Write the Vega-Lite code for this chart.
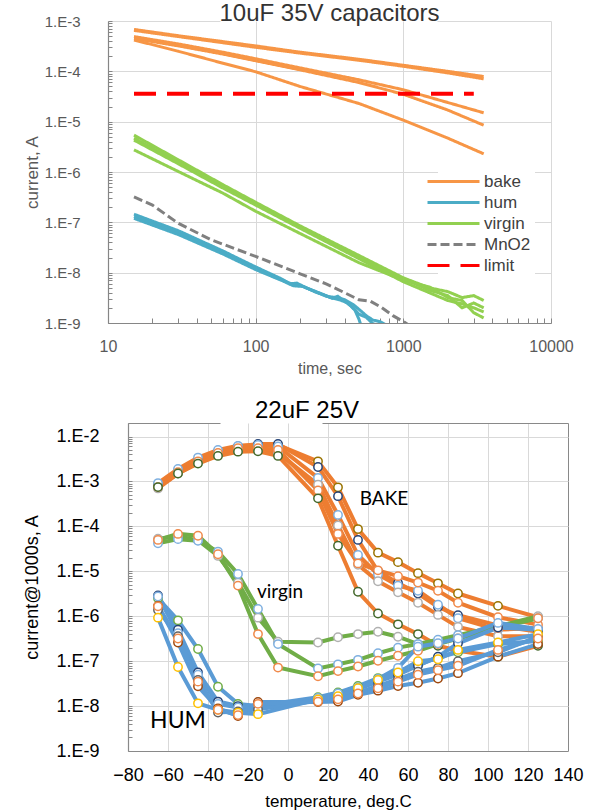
{
  "$schema": "https://vega.github.io/schema/vega-lite/v6.json",
  "background": "white",
  "padding": {"left": 23, "top": 2, "right": 5, "bottom": 2},
  "spacing": 23,
  "columns": 1,
  "config": {"view": {"stroke": null}, "font": "Liberation Sans"},
  "resolve": {"scale": {"color": "independent", "strokeDash": "independent", "stroke": "independent"}, "legend": {"color": "independent", "strokeDash": "independent"}},
  "datasets": {
    "top": [
      {"s":"bake","id":"b1","t":15,"I":6.8e-4},{"s":"bake","id":"b1","t":30,"I":5.1e-4},{"s":"bake","id":"b1","t":60,"I":3.9e-4},{"s":"bake","id":"b1","t":100,"I":3.2e-4},{"s":"bake","id":"b1","t":200,"I":2.4e-4},{"s":"bake","id":"b1","t":500,"I":1.74e-4},{"s":"bake","id":"b1","t":1000,"I":1.32e-4},{"s":"bake","id":"b1","t":2000,"I":1.0e-4},{"s":"bake","id":"b1","t":3500,"I":7.9e-5},
      {"s":"bake","id":"b2","t":15,"I":6.5e-4},{"s":"bake","id":"b2","t":30,"I":4.9e-4},{"s":"bake","id":"b2","t":60,"I":3.7e-4},{"s":"bake","id":"b2","t":100,"I":3.0e-4},{"s":"bake","id":"b2","t":200,"I":2.3e-4},{"s":"bake","id":"b2","t":500,"I":1.66e-4},{"s":"bake","id":"b2","t":1000,"I":1.26e-4},{"s":"bake","id":"b2","t":2000,"I":9.3e-5},{"s":"bake","id":"b2","t":3500,"I":7.1e-5},
      {"s":"bake","id":"b3","t":15,"I":4.9e-4},{"s":"bake","id":"b3","t":30,"I":3.5e-4},{"s":"bake","id":"b3","t":60,"I":2.4e-4},{"s":"bake","id":"b3","t":100,"I":1.78e-4},{"s":"bake","id":"b3","t":200,"I":1.17e-4},{"s":"bake","id":"b3","t":500,"I":6.8e-5},{"s":"bake","id":"b3","t":1000,"I":4.3e-5},{"s":"bake","id":"b3","t":2000,"I":2.4e-5},{"s":"bake","id":"b3","t":3500,"I":1.5e-5},
      {"s":"bake","id":"b4","t":15,"I":4.5e-4},{"s":"bake","id":"b4","t":30,"I":3.2e-4},{"s":"bake","id":"b4","t":60,"I":2.2e-4},{"s":"bake","id":"b4","t":100,"I":1.62e-4},{"s":"bake","id":"b4","t":200,"I":1.07e-4},{"s":"bake","id":"b4","t":500,"I":6.0e-5},{"s":"bake","id":"b4","t":1000,"I":3.5e-5},{"s":"bake","id":"b4","t":2000,"I":1.7e-5},{"s":"bake","id":"b4","t":3500,"I":8.5e-6},
      {"s":"bake","id":"b5","t":15,"I":4.2e-4},{"s":"bake","id":"b5","t":30,"I":2.5e-4},{"s":"bake","id":"b5","t":60,"I":1.45e-4},{"s":"bake","id":"b5","t":100,"I":9.8e-5},{"s":"bake","id":"b5","t":200,"I":5.0e-5},{"s":"bake","id":"b5","t":500,"I":2.3e-5},{"s":"bake","id":"b5","t":1000,"I":1.07e-5},{"s":"bake","id":"b5","t":2000,"I":4.7e-6},{"s":"bake","id":"b5","t":3500,"I":2.3e-6},
      {"s":"hum","id":"h1","t":15,"I":1.45e-7},{"s":"hum","id":"h1","t":30,"I":6.8e-8},{"s":"hum","id":"h1","t":60,"I":2.7e-8},{"s":"hum","id":"h1","t":100,"I":1.3e-8},{"s":"hum","id":"h1","t":150,"I":7.5e-9},{"s":"hum","id":"h1","t":170,"I":6.0e-9},{"s":"hum","id":"h1","t":190,"I":6.2e-9},{"s":"hum","id":"h1","t":220,"I":5.0e-9},{"s":"hum","id":"h1","t":260,"I":4.0e-9},{"s":"hum","id":"h1","t":300,"I":3.5e-9},{"s":"hum","id":"h1","t":330,"I":3.1e-9},{"s":"hum","id":"h1","t":360,"I":3.4e-9},{"s":"hum","id":"h1","t":400,"I":2.7e-9},{"s":"hum","id":"h1","t":450,"I":2.1e-9},{"s":"hum","id":"h1","t":500,"I":1.5e-9},{"s":"hum","id":"h1","t":560,"I":1.3e-9},{"s":"hum","id":"h1","t":620,"I":9.8e-10},{"s":"hum","id":"h1","t":700,"I":8.5e-10},
      {"s":"hum","id":"h2","t":15,"I":1.3e-7},{"s":"hum","id":"h2","t":30,"I":6.2e-8},{"s":"hum","id":"h2","t":60,"I":2.5e-8},{"s":"hum","id":"h2","t":100,"I":1.2e-8},{"s":"hum","id":"h2","t":150,"I":7.2e-9},{"s":"hum","id":"h2","t":180,"I":5.8e-9},{"s":"hum","id":"h2","t":200,"I":5.6e-9},{"s":"hum","id":"h2","t":240,"I":4.5e-9},{"s":"hum","id":"h2","t":280,"I":3.8e-9},{"s":"hum","id":"h2","t":320,"I":3.2e-9},{"s":"hum","id":"h2","t":370,"I":2.9e-9},{"s":"hum","id":"h2","t":420,"I":2.5e-9},{"s":"hum","id":"h2","t":470,"I":1.8e-9},{"s":"hum","id":"h2","t":500,"I":1.2e-9},{"s":"hum","id":"h2","t":520,"I":8.5e-10},
      {"s":"hum","id":"h3","t":15,"I":1.2e-7},{"s":"hum","id":"h3","t":30,"I":5.7e-8},{"s":"hum","id":"h3","t":60,"I":2.35e-8},{"s":"hum","id":"h3","t":100,"I":1.15e-8},{"s":"hum","id":"h3","t":150,"I":7.0e-9},{"s":"hum","id":"h3","t":180,"I":5.5e-9},{"s":"hum","id":"h3","t":210,"I":5.3e-9},{"s":"hum","id":"h3","t":250,"I":4.3e-9},{"s":"hum","id":"h3","t":300,"I":3.4e-9},{"s":"hum","id":"h3","t":350,"I":3.2e-9},{"s":"hum","id":"h3","t":400,"I":2.9e-9},{"s":"hum","id":"h3","t":460,"I":2.3e-9},{"s":"hum","id":"h3","t":520,"I":1.7e-9},{"s":"hum","id":"h3","t":560,"I":1.4e-9},{"s":"hum","id":"h3","t":620,"I":1.15e-9},{"s":"hum","id":"h3","t":700,"I":1.05e-9},{"s":"hum","id":"h3","t":800,"I":8.5e-10},
      {"s":"virgin","id":"v1","t":15,"I":5.4e-6},{"s":"virgin","id":"v1","t":30,"I":1.74e-6},{"s":"virgin","id":"v1","t":60,"I":5.6e-7},{"s":"virgin","id":"v1","t":100,"I":2.5e-7},{"s":"virgin","id":"v1","t":200,"I":8.5e-8},{"s":"virgin","id":"v1","t":500,"I":2.2e-8},{"s":"virgin","id":"v1","t":1000,"I":7.9e-9},{"s":"virgin","id":"v1","t":1500,"I":5.0e-9},{"s":"virgin","id":"v1","t":2000,"I":4.2e-9},{"s":"virgin","id":"v1","t":2500,"I":3.2e-9},{"s":"virgin","id":"v1","t":3000,"I":3.5e-9},{"s":"virgin","id":"v1","t":3500,"I":2.8e-9},
      {"s":"virgin","id":"v2","t":15,"I":4.7e-6},{"s":"virgin","id":"v2","t":30,"I":1.58e-6},{"s":"virgin","id":"v2","t":60,"I":5.1e-7},{"s":"virgin","id":"v2","t":100,"I":2.3e-7},{"s":"virgin","id":"v2","t":200,"I":7.9e-8},{"s":"virgin","id":"v2","t":500,"I":2.0e-8},{"s":"virgin","id":"v2","t":1000,"I":7.6e-9},{"s":"virgin","id":"v2","t":1500,"I":4.5e-9},{"s":"virgin","id":"v2","t":2000,"I":3.5e-9},{"s":"virgin","id":"v2","t":2500,"I":2.0e-9},{"s":"virgin","id":"v2","t":3000,"I":2.5e-9},{"s":"virgin","id":"v2","t":3500,"I":2.0e-9},
      {"s":"virgin","id":"v3","t":15,"I":2.75e-6},{"s":"virgin","id":"v3","t":30,"I":1.02e-6},{"s":"virgin","id":"v3","t":60,"I":3.8e-7},{"s":"virgin","id":"v3","t":100,"I":1.66e-7},{"s":"virgin","id":"v3","t":200,"I":6.0e-8},{"s":"virgin","id":"v3","t":500,"I":1.58e-8},{"s":"virgin","id":"v3","t":1000,"I":7.1e-9},{"s":"virgin","id":"v3","t":1500,"I":5.2e-9},{"s":"virgin","id":"v3","t":2000,"I":3.2e-9},{"s":"virgin","id":"v3","t":2500,"I":2.8e-9},{"s":"virgin","id":"v3","t":3000,"I":1.6e-9},{"s":"virgin","id":"v3","t":3500,"I":1.26e-9},
      {"s":"virgin","id":"v4","t":15,"I":4.3e-6},{"s":"virgin","id":"v4","t":30,"I":1.45e-6},{"s":"virgin","id":"v4","t":60,"I":4.8e-7},{"s":"virgin","id":"v4","t":100,"I":2.2e-7},{"s":"virgin","id":"v4","t":200,"I":7.6e-8},{"s":"virgin","id":"v4","t":500,"I":1.9e-8},{"s":"virgin","id":"v4","t":1000,"I":6.6e-9},{"s":"virgin","id":"v4","t":1500,"I":4.0e-9},{"s":"virgin","id":"v4","t":2000,"I":2.8e-9},{"s":"virgin","id":"v4","t":2500,"I":2.4e-9},{"s":"virgin","id":"v4","t":3000,"I":2.0e-9},{"s":"virgin","id":"v4","t":3500,"I":1.66e-9},
      {"s":"MnO2","id":"m1","t":15,"I":3.2e-7},{"s":"MnO2","id":"m1","t":20,"I":2.2e-7},{"s":"MnO2","id":"m1","t":30,"I":9.5e-8},{"s":"MnO2","id":"m1","t":50,"I":4.5e-8},{"s":"MnO2","id":"m1","t":100,"I":2.1e-8},{"s":"MnO2","id":"m1","t":200,"I":9.5e-9},{"s":"MnO2","id":"m1","t":300,"I":6.0e-9},{"s":"MnO2","id":"m1","t":400,"I":4.0e-9},{"s":"MnO2","id":"m1","t":500,"I":2.9e-9},{"s":"MnO2","id":"m1","t":600,"I":2.7e-9},{"s":"MnO2","id":"m1","t":700,"I":2.1e-9},{"s":"MnO2","id":"m1","t":850,"I":1.4e-9},{"s":"MnO2","id":"m1","t":1000,"I":1.07e-9},{"s":"MnO2","id":"m1","t":1100,"I":8.9e-10},
      {"s":"limit","id":"l1","t":15,"I":3.6e-5},{"s":"limit","id":"l1","t":3000,"I":3.6e-5}
    ],
    "bottom": [
      {"g":"BAKE","m":"olive","T":-65,"I":8.5e-4},{"g":"BAKE","m":"olive","T":-55,"I":1.7e-3},{"g":"BAKE","m":"olive","T":-45,"I":3.0e-3},{"g":"BAKE","m":"olive","T":-35,"I":4.6e-3},{"g":"BAKE","m":"olive","T":-25,"I":5.8e-3},{"g":"BAKE","m":"olive","T":-15,"I":6.5e-3},{"g":"BAKE","m":"olive","T":-5,"I":6.5e-3},{"g":"BAKE","m":"olive","T":15,"I":2.8e-3},{"g":"BAKE","m":"olive","T":25,"I":7.4e-4},{"g":"BAKE","m":"olive","T":35,"I":8.7e-5},{"g":"BAKE","m":"olive","T":45,"I":2.6e-5},{"g":"BAKE","m":"olive","T":55,"I":1.6e-5},{"g":"BAKE","m":"olive","T":65,"I":9.1e-6},{"g":"BAKE","m":"olive","T":75,"I":5.4e-6},{"g":"BAKE","m":"olive","T":85,"I":3.2e-6},{"g":"BAKE","m":"olive","T":105,"I":1.7e-6},{"g":"BAKE","m":"olive","T":125,"I":9.5e-7},
      {"g":"BAKE","m":"navy","T":-65,"I":8.0e-4},{"g":"BAKE","m":"navy","T":-55,"I":1.6e-3},{"g":"BAKE","m":"navy","T":-45,"I":2.9e-3},{"g":"BAKE","m":"navy","T":-35,"I":4.5e-3},{"g":"BAKE","m":"navy","T":-25,"I":6.0e-3},{"g":"BAKE","m":"navy","T":-15,"I":6.8e-3},{"g":"BAKE","m":"navy","T":-5,"I":6.8e-3},{"g":"BAKE","m":"navy","T":15,"I":2.1e-3},{"g":"BAKE","m":"navy","T":25,"I":4.7e-4},{"g":"BAKE","m":"navy","T":35,"I":5.0e-5},{"g":"BAKE","m":"navy","T":45,"I":1.0e-5},{"g":"BAKE","m":"navy","T":55,"I":5.5e-6},{"g":"BAKE","m":"navy","T":65,"I":3.2e-6},{"g":"BAKE","m":"navy","T":75,"I":1.6e-6},{"g":"BAKE","m":"navy","T":85,"I":1.05e-6},{"g":"BAKE","m":"navy","T":105,"I":6.2e-7},{"g":"BAKE","m":"navy","T":125,"I":4.5e-7},
      {"g":"BAKE","m":"lblue","T":-65,"I":9.2e-4},{"g":"BAKE","m":"lblue","T":-55,"I":1.9e-3},{"g":"BAKE","m":"lblue","T":-45,"I":3.4e-3},{"g":"BAKE","m":"lblue","T":-35,"I":5.0e-3},{"g":"BAKE","m":"lblue","T":-25,"I":6.2e-3},{"g":"BAKE","m":"lblue","T":-15,"I":6.5e-3},{"g":"BAKE","m":"lblue","T":-5,"I":6.0e-3},{"g":"BAKE","m":"lblue","T":15,"I":1.2e-3},{"g":"BAKE","m":"lblue","T":25,"I":1.8e-4},{"g":"BAKE","m":"lblue","T":35,"I":2.3e-5},{"g":"BAKE","m":"lblue","T":45,"I":8.5e-6},{"g":"BAKE","m":"lblue","T":55,"I":4.8e-6},{"g":"BAKE","m":"lblue","T":65,"I":3.7e-6},{"g":"BAKE","m":"lblue","T":75,"I":1.8e-6},{"g":"BAKE","m":"lblue","T":85,"I":9.0e-7},{"g":"BAKE","m":"lblue","T":105,"I":5.0e-7},{"g":"BAKE","m":"lblue","T":125,"I":5.5e-7},
      {"g":"BAKE","m":"grey","T":-65,"I":7.0e-4},{"g":"BAKE","m":"grey","T":-55,"I":1.5e-3},{"g":"BAKE","m":"grey","T":-45,"I":2.6e-3},{"g":"BAKE","m":"grey","T":-35,"I":4.0e-3},{"g":"BAKE","m":"grey","T":-25,"I":4.8e-3},{"g":"BAKE","m":"grey","T":-15,"I":5.0e-3},{"g":"BAKE","m":"grey","T":-5,"I":4.3e-3},{"g":"BAKE","m":"grey","T":15,"I":8.5e-4},{"g":"BAKE","m":"grey","T":25,"I":1.05e-4},{"g":"BAKE","m":"grey","T":35,"I":1.4e-5},{"g":"BAKE","m":"grey","T":45,"I":6.0e-6},{"g":"BAKE","m":"grey","T":55,"I":3.4e-6},{"g":"BAKE","m":"grey","T":65,"I":2.0e-6},{"g":"BAKE","m":"grey","T":75,"I":1.07e-6},{"g":"BAKE","m":"grey","T":85,"I":5.8e-7},{"g":"BAKE","m":"grey","T":105,"I":3.6e-7},{"g":"BAKE","m":"grey","T":125,"I":3.6e-7},
      {"g":"BAKE","m":"orange","T":-65,"I":7.5e-4},{"g":"BAKE","m":"orange","T":-55,"I":1.6e-3},{"g":"BAKE","m":"orange","T":-45,"I":2.8e-3},{"g":"BAKE","m":"orange","T":-35,"I":4.3e-3},{"g":"BAKE","m":"orange","T":-25,"I":5.5e-3},{"g":"BAKE","m":"orange","T":-15,"I":5.5e-3},{"g":"BAKE","m":"orange","T":-5,"I":5.0e-3},{"g":"BAKE","m":"orange","T":15,"I":6.3e-4},{"g":"BAKE","m":"orange","T":25,"I":6.8e-5},{"g":"BAKE","m":"orange","T":35,"I":1.5e-5},{"g":"BAKE","m":"orange","T":45,"I":1.05e-5},{"g":"BAKE","m":"orange","T":55,"I":7.8e-6},{"g":"BAKE","m":"orange","T":65,"I":5.6e-6},{"g":"BAKE","m":"orange","T":75,"I":3.7e-6},{"g":"BAKE","m":"orange","T":85,"I":2.0e-6},{"g":"BAKE","m":"orange","T":105,"I":9.5e-7},{"g":"BAKE","m":"orange","T":125,"I":6.5e-7},
      {"g":"BAKE","m":"dgreen","T":-65,"I":7.5e-4},{"g":"BAKE","m":"dgreen","T":-55,"I":1.5e-3},{"g":"BAKE","m":"dgreen","T":-45,"I":2.5e-3},{"g":"BAKE","m":"dgreen","T":-35,"I":3.7e-3},{"g":"BAKE","m":"dgreen","T":-25,"I":4.6e-3},{"g":"BAKE","m":"dgreen","T":-15,"I":4.7e-3},{"g":"BAKE","m":"dgreen","T":-5,"I":3.7e-3},{"g":"BAKE","m":"dgreen","T":15,"I":4.2e-4},{"g":"BAKE","m":"dgreen","T":25,"I":3.7e-5},{"g":"BAKE","m":"dgreen","T":35,"I":3.5e-6},{"g":"BAKE","m":"dgreen","T":45,"I":1.15e-6},{"g":"BAKE","m":"dgreen","T":55,"I":6.6e-7},{"g":"BAKE","m":"dgreen","T":65,"I":4.0e-7},{"g":"BAKE","m":"dgreen","T":75,"I":2.2e-7},{"g":"BAKE","m":"dgreen","T":85,"I":1.7e-7},{"g":"BAKE","m":"dgreen","T":105,"I":1.26e-7},{"g":"BAKE","m":"dgreen","T":125,"I":2.2e-7},
      {"g":"virgin","m":"grey","T":-65,"I":5.3e-5},{"g":"virgin","m":"grey","T":-55,"I":6.0e-5},{"g":"virgin","m":"grey","T":-45,"I":4.9e-5},{"g":"virgin","m":"grey","T":-35,"I":2.2e-5},{"g":"virgin","m":"grey","T":-25,"I":5.6e-6},{"g":"virgin","m":"grey","T":-15,"I":9.3e-7},{"g":"virgin","m":"grey","T":-5,"I":2.7e-7},{"g":"virgin","m":"grey","T":15,"I":2.6e-7},{"g":"virgin","m":"grey","T":25,"I":3.4e-7},{"g":"virgin","m":"grey","T":35,"I":4.0e-7},{"g":"virgin","m":"grey","T":45,"I":4.5e-7},{"g":"virgin","m":"grey","T":55,"I":3.5e-7},{"g":"virgin","m":"grey","T":65,"I":2.4e-7},{"g":"virgin","m":"grey","T":75,"I":2.7e-7},{"g":"virgin","m":"grey","T":85,"I":3.5e-7},{"g":"virgin","m":"grey","T":105,"I":6.0e-7},{"g":"virgin","m":"grey","T":125,"I":1.0e-6},
      {"g":"virgin","m":"lblue","T":-65,"I":4.2e-5},{"g":"virgin","m":"lblue","T":-55,"I":5.2e-5},{"g":"virgin","m":"lblue","T":-45,"I":4.8e-5},{"g":"virgin","m":"lblue","T":-35,"I":2.75e-5},{"g":"virgin","m":"lblue","T":-25,"I":8.7e-6},{"g":"virgin","m":"lblue","T":-15,"I":1.45e-6},{"g":"virgin","m":"lblue","T":-5,"I":2.4e-7},{"g":"virgin","m":"lblue","T":15,"I":6.9e-8},{"g":"virgin","m":"lblue","T":25,"I":8.5e-8},{"g":"virgin","m":"lblue","T":35,"I":1.07e-7},{"g":"virgin","m":"lblue","T":45,"I":1.5e-7},{"g":"virgin","m":"lblue","T":55,"I":2.0e-7},{"g":"virgin","m":"lblue","T":65,"I":2.4e-7},{"g":"virgin","m":"lblue","T":75,"I":3.0e-7},{"g":"virgin","m":"lblue","T":85,"I":3.8e-7},{"g":"virgin","m":"lblue","T":105,"I":6.0e-7},{"g":"virgin","m":"lblue","T":125,"I":9.0e-7},
      {"g":"virgin","m":"orange","T":-65,"I":5.0e-5},{"g":"virgin","m":"orange","T":-55,"I":6.8e-5},{"g":"virgin","m":"orange","T":-45,"I":6.2e-5},{"g":"virgin","m":"orange","T":-35,"I":2.4e-5},{"g":"virgin","m":"orange","T":-25,"I":4.8e-6},{"g":"virgin","m":"orange","T":-15,"I":4.0e-7},{"g":"virgin","m":"orange","T":-5,"I":7.2e-8},{"g":"virgin","m":"orange","T":15,"I":4.6e-8},{"g":"virgin","m":"orange","T":25,"I":6.0e-8},{"g":"virgin","m":"orange","T":35,"I":7.6e-8},{"g":"virgin","m":"orange","T":45,"I":1.02e-7},{"g":"virgin","m":"orange","T":55,"I":1.32e-7},{"g":"virgin","m":"orange","T":65,"I":1.7e-7},{"g":"virgin","m":"orange","T":75,"I":2.4e-7},{"g":"virgin","m":"orange","T":85,"I":3.2e-7},{"g":"virgin","m":"orange","T":105,"I":5.5e-7},{"g":"virgin","m":"orange","T":125,"I":9.0e-7},
      {"g":"HUM","m":"green","T":-65,"I":2.5e-6},{"g":"HUM","m":"green","T":-55,"I":8.1e-7},{"g":"HUM","m":"green","T":-45,"I":1.86e-7},{"g":"HUM","m":"green","T":-35,"I":2.7e-8},{"g":"HUM","m":"green","T":-25,"I":1.12e-8},{"g":"HUM","m":"green","T":-15,"I":1.0e-8},{"g":"HUM","m":"green","T":15,"I":1.58e-8},{"g":"HUM","m":"green","T":25,"I":2.0e-8},{"g":"HUM","m":"green","T":35,"I":2.8e-8},{"g":"HUM","m":"green","T":45,"I":4.2e-8},{"g":"HUM","m":"green","T":55,"I":6.0e-8},{"g":"HUM","m":"green","T":65,"I":8.3e-8},{"g":"HUM","m":"green","T":75,"I":1.2e-7},{"g":"HUM","m":"green","T":85,"I":1.58e-7},{"g":"HUM","m":"green","T":105,"I":2.4e-7},{"g":"HUM","m":"green","T":125,"I":2.8e-7},
      {"g":"HUM","m":"navy","T":-65,"I":2.9e-6},{"g":"HUM","m":"navy","T":-55,"I":5.0e-7},{"g":"HUM","m":"navy","T":-45,"I":5.6e-8},{"g":"HUM","m":"navy","T":-35,"I":1.26e-8},{"g":"HUM","m":"navy","T":-25,"I":1.0e-8},{"g":"HUM","m":"navy","T":-15,"I":1.0e-8},{"g":"HUM","m":"navy","T":15,"I":1.41e-8},{"g":"HUM","m":"navy","T":25,"I":1.78e-8},{"g":"HUM","m":"navy","T":35,"I":2.4e-8},{"g":"HUM","m":"navy","T":45,"I":3.5e-8},{"g":"HUM","m":"navy","T":55,"I":5.0e-8},{"g":"HUM","m":"navy","T":65,"I":7.9e-8},{"g":"HUM","m":"navy","T":75,"I":1.26e-7},{"g":"HUM","m":"navy","T":85,"I":2.5e-7},{"g":"HUM","m":"navy","T":105,"I":5.6e-7},{"g":"HUM","m":"navy","T":125,"I":5.0e-7},
      {"g":"HUM","m":"lblue","T":-65,"I":2.75e-6},{"g":"HUM","m":"lblue","T":-55,"I":4.2e-7},{"g":"HUM","m":"lblue","T":-45,"I":5.0e-8},{"g":"HUM","m":"lblue","T":-35,"I":1.12e-8},{"g":"HUM","m":"lblue","T":-25,"I":9.3e-9},{"g":"HUM","m":"lblue","T":-15,"I":9.3e-9},{"g":"HUM","m":"lblue","T":15,"I":1.51e-8},{"g":"HUM","m":"lblue","T":25,"I":1.9e-8},{"g":"HUM","m":"lblue","T":35,"I":2.6e-8},{"g":"HUM","m":"lblue","T":45,"I":4.0e-8},{"g":"HUM","m":"lblue","T":55,"I":7.1e-8},{"g":"HUM","m":"lblue","T":65,"I":2.1e-7},{"g":"HUM","m":"lblue","T":75,"I":2.5e-7},{"g":"HUM","m":"lblue","T":85,"I":3.2e-7},{"g":"HUM","m":"lblue","T":105,"I":7.1e-7},{"g":"HUM","m":"lblue","T":125,"I":5.2e-7},
      {"g":"HUM","m":"brown","T":-65,"I":1.7e-6},{"g":"HUM","m":"brown","T":-55,"I":2.6e-7},{"g":"HUM","m":"brown","T":-45,"I":2.75e-8},{"g":"HUM","m":"brown","T":-35,"I":8.9e-9},{"g":"HUM","m":"brown","T":-25,"I":6.0e-9},{"g":"HUM","m":"brown","T":-15,"I":1.23e-8},{"g":"HUM","m":"brown","T":15,"I":1.23e-8},{"g":"HUM","m":"brown","T":25,"I":1.26e-8},{"g":"HUM","m":"brown","T":35,"I":1.78e-8},{"g":"HUM","m":"brown","T":45,"I":2.2e-8},{"g":"HUM","m":"brown","T":55,"I":2.8e-8},{"g":"HUM","m":"brown","T":65,"I":3.3e-8},{"g":"HUM","m":"brown","T":75,"I":4.1e-8},{"g":"HUM","m":"brown","T":85,"I":5.4e-8},{"g":"HUM","m":"brown","T":105,"I":1.26e-7},{"g":"HUM","m":"brown","T":125,"I":2.4e-7},
      {"g":"HUM","m":"dgrey","T":-65,"I":1.38e-6},{"g":"HUM","m":"dgrey","T":-55,"I":3.6e-7},{"g":"HUM","m":"dgrey","T":-45,"I":3.8e-8},{"g":"HUM","m":"dgrey","T":-35,"I":7.2e-9},{"g":"HUM","m":"dgrey","T":-25,"I":7.6e-9},{"g":"HUM","m":"dgrey","T":-15,"I":8.5e-9},{"g":"HUM","m":"dgrey","T":15,"I":1.32e-8},{"g":"HUM","m":"dgrey","T":25,"I":1.58e-8},{"g":"HUM","m":"dgrey","T":35,"I":2.0e-8},{"g":"HUM","m":"dgrey","T":45,"I":2.8e-8},{"g":"HUM","m":"dgrey","T":55,"I":4.0e-8},{"g":"HUM","m":"dgrey","T":65,"I":5.8e-8},{"g":"HUM","m":"dgrey","T":75,"I":7.1e-8},{"g":"HUM","m":"dgrey","T":85,"I":1.0e-7},{"g":"HUM","m":"dgrey","T":105,"I":1.58e-7},{"g":"HUM","m":"dgrey","T":125,"I":3.5e-7},
      {"g":"HUM","m":"yellow","T":-65,"I":9.3e-7},{"g":"HUM","m":"yellow","T":-55,"I":7.4e-8},{"g":"HUM","m":"yellow","T":-45,"I":1.15e-8},{"g":"HUM","m":"yellow","T":-35,"I":8.3e-9},{"g":"HUM","m":"yellow","T":-25,"I":7.1e-9},{"g":"HUM","m":"yellow","T":-15,"I":6.6e-9},{"g":"HUM","m":"yellow","T":15,"I":1.41e-8},{"g":"HUM","m":"yellow","T":25,"I":1.66e-8},{"g":"HUM","m":"yellow","T":35,"I":2.5e-8},{"g":"HUM","m":"yellow","T":45,"I":3.8e-8},{"g":"HUM","m":"yellow","T":55,"I":5.6e-8},{"g":"HUM","m":"yellow","T":65,"I":1.0e-7},{"g":"HUM","m":"yellow","T":75,"I":1.1e-7},{"g":"HUM","m":"yellow","T":85,"I":1.78e-7},{"g":"HUM","m":"yellow","T":105,"I":2.6e-7},{"g":"HUM","m":"yellow","T":125,"I":4.0e-7},
      {"g":"HUM","m":"orange","T":-65,"I":1.66e-6},{"g":"HUM","m":"orange","T":-55,"I":3.2e-7},{"g":"HUM","m":"orange","T":-45,"I":3.5e-8},{"g":"HUM","m":"orange","T":-35,"I":8.3e-9},{"g":"HUM","m":"orange","T":-25,"I":6.3e-9},{"g":"HUM","m":"orange","T":-15,"I":1.12e-8},{"g":"HUM","m":"orange","T":15,"I":1.26e-8},{"g":"HUM","m":"orange","T":25,"I":1.41e-8},{"g":"HUM","m":"orange","T":35,"I":1.9e-8},{"g":"HUM","m":"orange","T":45,"I":2.5e-8},{"g":"HUM","m":"orange","T":55,"I":3.5e-8},{"g":"HUM","m":"orange","T":65,"I":5.0e-8},{"g":"HUM","m":"orange","T":75,"I":6.3e-8},{"g":"HUM","m":"orange","T":85,"I":7.9e-8},{"g":"HUM","m":"orange","T":105,"I":1.78e-7},{"g":"HUM","m":"orange","T":125,"I":3.2e-7}
    ],
    "notes": [
      {"label":"BAKE","T":48,"I":4.0e-4,"big":false},
      {"label":"virgin","T":-4,"I":3.4e-6,"big":false},
      {"label":"HUM","T":-55,"I":4.6e-9,"big":true}
    ]
  },
  "concat": [
    {
      "width": 443,
      "height": 302,
      "title": {"text": "10uF  35V capacitors", "fontSize": 24, "font": "Liberation Sans", "fontWeight": "normal", "color": "#333333", "baseline": "alphabetic", "offset": -31, "anchor": "middle"},
      "data": {"name": "top"},
      "layer": [
        {
          "transform": [{"filter": "datum.s !== 'limit'"}],
          "mark": {"type": "line", "strokeWidth": 3, "clip": true},
          "encoding": {
            "x": {"field": "t", "type": "quantitative",
              "scale": {"type": "log", "domain": [10, 10000], "nice": false},
              "axis": {"values": [10,20,30,40,50,60,70,80,90,100,200,300,400,500,600,700,800,900,1000,2000,3000,4000,5000,6000,7000,8000,9000,10000],
                "labelExpr": "(datum.value==10||datum.value==100||datum.value==1000||datum.value==10000) ? format(datum.value,'d') : ''",
                "title": "time, sec", "titleFontSize": 16, "titleFontWeight": "normal", "titleColor": "#595959", "titlePadding": 6,
                "labelFontSize": 16, "labelColor": "#595959", "labelPadding": 20, "labelFlush": false, "labelOverlap": false,
                "tickSize": -5, "tickColor": "#868686", "domainColor": "#868686", "domainWidth": 1.2,
                "grid": true, "gridColor": "#d9d9d9",
                "gridOpacity": {"condition": {"test": "datum.value==100||datum.value==1000||datum.value==10000", "value": 1}, "value": 0}}},
            "y": {"field": "I", "type": "quantitative",
              "scale": {"type": "log", "domain": [1e-9, 1e-3], "nice": false},
              "axis": {"values": [1e-9,2e-9,3e-9,4e-9,5e-9,6e-9,7e-9,8e-9,9e-9,1e-8,2e-8,3e-8,4e-8,5e-8,6e-8,7e-8,8e-8,9e-8,1e-7,2e-7,3e-7,4e-7,5e-7,6e-7,7e-7,8e-7,9e-7,1e-6,2e-6,3e-6,4e-6,5e-6,6e-6,7e-6,8e-6,9e-6,1e-5,2e-5,3e-5,4e-5,5e-5,6e-5,7e-5,8e-5,9e-5,1e-4,2e-4,3e-4,4e-4,5e-4,6e-4,7e-4,8e-4,9e-4,1e-3],
                "labelExpr": "abs(log(datum.value)/LN10 - round(log(datum.value)/LN10)) < 0.01 ? '1.E' + round(log(datum.value)/LN10) : ''",
                "title": "current, A", "titleFontSize": 17, "titleFontWeight": "normal", "titleColor": "#595959", "titlePadding": 3,
                "labelFontSize": 15, "labelColor": "#595959", "labelPadding": 32, "labelOverlap": false, "labelFlush": false,
                "tickSize": -4, "tickColor": "#868686", "domainColor": "#868686", "domainWidth": 1.2,
                "grid": true, "gridColor": "#d9d9d9",
                "gridDash": {"condition": {"test": "datum.value > 0.0009", "value": [112, 217, 600]}, "value": []},
                "gridOpacity": {"condition": {"test": "abs(log(datum.value)/LN10 - round(log(datum.value)/LN10)) < 0.01", "value": 1}, "value": 0}}},
            "color": {"field": "s", "type": "nominal",
              "scale": {"domain": ["bake","hum","virgin","MnO2","limit"], "range": ["#F79646","#4BACC6","#92D050","#808080","#FF0000"]},
              "legend": {"title": null, "orient": "none", "legendX": 330, "legendY": 145, "symbolType": "M-2.6,0H2.6", "symbolSize": 400, "symbolStrokeWidth": 3, "labelFontSize": 17, "labelColor": "#404040", "labelFont": "Liberation Sans", "fillColor": "white", "padding": 4, "rowPadding": 1, "labelOffset": 19}},
            "strokeDash": {"field": "s", "type": "nominal",
              "scale": {"domain": ["bake","hum","virgin","MnO2","limit"], "range": [[1,0],[1,0],[1,0],[9,4],[22,11]]},
              "legend": {"title": null, "orient": "none", "legendX": 330, "legendY": 145, "symbolType": "M-2.6,0H2.6", "symbolSize": 400, "symbolStrokeWidth": 3, "labelFontSize": 17, "labelColor": "#404040", "labelFont": "Liberation Sans", "fillColor": "white", "padding": 4, "rowPadding": 1, "labelOffset": 19}},
            "detail": {"field": "id"}
          }
        },
        {
          "transform": [{"filter": "datum.s === 'limit'"}],
          "mark": {"type": "line", "strokeWidth": 4},
          "encoding": {
            "x": {"field": "t", "type": "quantitative"},
            "y": {"field": "I", "type": "quantitative"},
            "color": {"field": "s", "type": "nominal"},
            "strokeDash": {"field": "s", "type": "nominal"}
          }
        }
      ]
    },
    {
      "width": 460,
      "height": 328,
      "title": {"text": "22uF  25V", "fontSize": 24, "font": "Liberation Sans", "fontWeight": "normal", "color": "#000000", "baseline": "alphabetic", "offset": -28, "anchor": "middle", "dx": -31},
      "layer": [
        {
          "data": {"name": "bottom"},
          "mark": {"type": "line", "strokeWidth": 4},
          "encoding": {
            "x": {"field": "T", "type": "quantitative",
              "scale": {"domain": [-90, 140], "nice": false},
              "axis": {"values": [-80,-60,-40,-20,0,20,40,60,80,100,120,140],
                "title": "temperature,  deg.C", "titleFontSize": 17, "titleFontWeight": "normal", "titleColor": "#000000", "titlePadding": 9,
                "labelFontSize": 18, "labelColor": "#000000", "labelPadding": 15, "labelFlush": false, "labelOverlap": false,
                "ticks": false, "domainColor": "#898989", "domainWidth": 1.2, "domainDash": [0, 20, 1000],
                "grid": true,
                "gridColor": {"condition": {"test": "datum.value==140", "value": "#898989"}, "value": "#d9d9d9"}}},
            "y": {"field": "I", "type": "quantitative",
              "scale": {"type": "log", "domain": [1e-9, 0.02], "nice": false},
              "axis": {"values": [1e-9,2e-9,3e-9,4e-9,5e-9,6e-9,7e-9,8e-9,9e-9,1e-8,2e-8,3e-8,4e-8,5e-8,6e-8,7e-8,8e-8,9e-8,1e-7,2e-7,3e-7,4e-7,5e-7,6e-7,7e-7,8e-7,9e-7,1e-6,2e-6,3e-6,4e-6,5e-6,6e-6,7e-6,8e-6,9e-6,1e-5,2e-5,3e-5,4e-5,5e-5,6e-5,7e-5,8e-5,9e-5,1e-4,2e-4,3e-4,4e-4,5e-4,6e-4,7e-4,8e-4,9e-4,1e-3,2e-3,3e-3,4e-3,5e-3,6e-3,7e-3,8e-3,9e-3,1e-2,2e-2],
                "labelExpr": "abs(log(datum.value)/LN10 - round(log(datum.value)/LN10)) < 0.01 ? '1.E' + round(log(datum.value)/LN10) : ''",
                "title": "current@1000s,  A", "titleFontSize": 18, "titleFontWeight": "normal", "titleColor": "#000000", "titlePadding": 14,
                "labelFontSize": 18, "labelColor": "#000000", "labelPadding": 33, "labelOverlap": false, "labelFlush": false,
                "offset": -20,
                "tickSize": -4, "tickColor": "#898989", "domainColor": "#898989", "domainWidth": 1.2,
                "grid": true,
                "gridColor": {"condition": {"test": "datum.value > 0.015", "value": "#898989"}, "value": "#d9d9d9"},
                "gridDash": {"condition": {"test": "datum.value > 0.015", "value": [0, 20, 92, 102, 600]}, "value": [0, 20, 1000]},
                "gridOpacity": {"condition": {"test": "abs(log(datum.value)/LN10 - round(log(datum.value)/LN10)) < 0.01 || datum.value > 0.015", "value": 1}, "value": 0}}},
            "color": {"field": "g", "type": "nominal",
              "scale": {"domain": ["BAKE","virgin","HUM"], "range": ["#ED7D31","#70AD47","#5B9BD5"]}, "legend": null},
            "detail": {"field": "m"}
          }
        },
        {
          "data": {"name": "bottom"},
          "mark": {"type": "point", "filled": true, "fill": "white", "size": 70, "strokeWidth": 1.5, "opacity": 1},
          "encoding": {
            "x": {"field": "T", "type": "quantitative"},
            "y": {"field": "I", "type": "quantitative"},
            "stroke": {"field": "m", "type": "nominal",
              "scale": {"domain": ["olive","navy","lblue","grey","orange","dgreen","green","brown","dgrey","yellow"], "range": ["#997300","#264478","#7FB0E0","#B0B0B0","#F08A4B","#43682B","#70AD47","#9E480E","#636363","#FFC000"]}, "legend": null}
          }
        },
        {
          "data": {"name": "notes"},
          "transform": [{"filter": "!datum.big"}],
          "mark": {"type": "text", "font": "Lato", "fontSize": 19, "color": "#000000", "align": "center", "baseline": "middle"},
          "encoding": {
            "x": {"field": "T", "type": "quantitative"},
            "y": {"field": "I", "type": "quantitative"},
            "text": {"field": "label"}
          }
        },
        {
          "data": {"name": "notes"},
          "transform": [{"filter": "datum.big"}],
          "mark": {"type": "text", "font": "Lato", "fontSize": 23, "color": "#000000", "align": "center", "baseline": "middle"},
          "encoding": {
            "x": {"field": "T", "type": "quantitative"},
            "y": {"field": "I", "type": "quantitative"},
            "text": {"field": "label"}
          }
        }
      ]
    }
  ]
}
